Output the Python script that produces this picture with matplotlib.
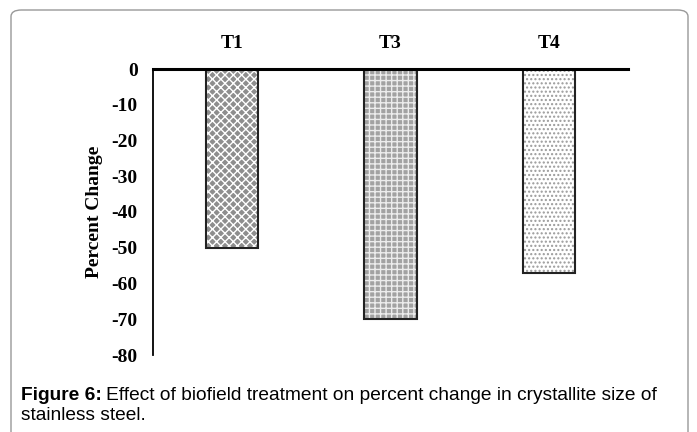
import matplotlib
matplotlib.use("Agg")
import matplotlib.pyplot as plt
from matplotlib.patches import FancyBboxPatch
import matplotlib as mpl

categories = ["T1", "T3", "T4"]
values = [-50, -70, -57]
yticks = [0, -10, -20, -30, -40, -50, -60, -70, -80]

mpl.rcParams['hatch.linewidth'] = 1.0

fig = plt.figure(figsize=(6.97, 4.32), dpi=100)
border = FancyBboxPatch((11/697, -0.05), (688-11)/697, (432-10)/432 + 0.05,
                        boxstyle="round,pad=0,rounding_size=0.015",
                        transform=fig.transFigure, facecolor="none",
                        edgecolor="#999999", linewidth=1.0, zorder=-5)
fig.patches.append(border)

ax = fig.add_axes([153/697, 1-355/432, (628-153)/697, (355-69)/432])
ax.set_facecolor("none")
styles = [dict(facecolor="#8e8e8e", hatch="xxxx", edgecolor="white"),
          dict(facecolor="#a2a2a2", hatch="+++", edgecolor="#ececec"),
          dict(facecolor="white", hatch="....", edgecolor="#9a9a9a")]
for i, (v, st) in enumerate(zip(values, styles)):
    ax.bar(i, v, width=0.33, facecolor=st["facecolor"], hatch=st["hatch"],
           edgecolor=st["edgecolor"], linewidth=0)
    ax.bar(i, v, width=0.33, facecolor="none", edgecolor="#222222", linewidth=1.5)

serif = dict(fontfamily="Liberation Serif", fontweight="bold", fontsize=14)
ax.set_xlim(-0.5, 2.5)
ax.set_ylim(-80, 0)
ax.set_yticks(yticks)
ax.set_yticklabels([str(t) for t in yticks], **serif)
ax.tick_params(axis="y", length=0, pad=11)
ax.xaxis.tick_top()
ax.set_xticks(range(len(categories)))
ax.set_xticklabels(categories, **serif)
ax.tick_params(axis="x", length=0, pad=12)
for s in ["bottom", "right"]:
    ax.spines[s].set_visible(False)
ax.spines["top"].set_linewidth(2.2)
ax.spines["left"].set_linewidth(1.3)
ax.set_ylabel("Percent Change", labelpad=6, **serif)

cap_x = 21/697
cap_size = 13.8
t_bold = fig.text(cap_x, 1-395/432, "Figure 6:", fontfamily="Liberation Sans",
                  fontweight="bold", fontsize=cap_size, va="center", ha="left")
fig.canvas.draw()
bb = t_bold.get_window_extent()
fig.text(bb.x1/697 + 4/697, 1-395/432, "Effect of biofield treatment on percent change in crystallite size of",
         fontfamily="Liberation Sans", fontsize=cap_size, va="center", ha="left")
fig.text(cap_x, 1-416/432, "stainless steel.", fontfamily="Liberation Sans",
         fontsize=cap_size, va="center", ha="left")
fig.savefig("out.png", dpi=100)
